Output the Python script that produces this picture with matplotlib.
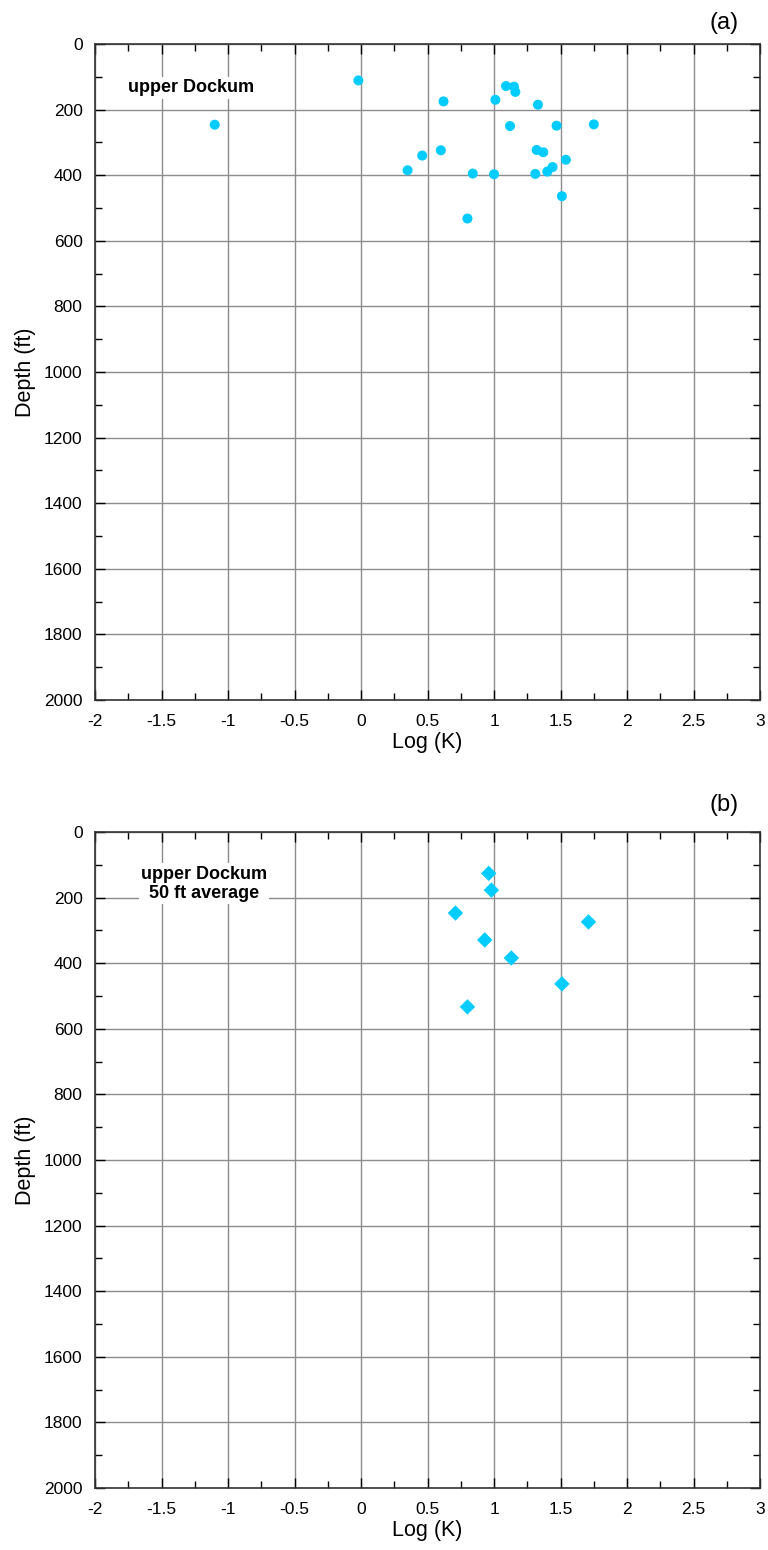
import numpy as np
import matplotlib
matplotlib.use("Agg")
import matplotlib.pyplot as plt
from matplotlib.ticker import MultipleLocator

plt.rcParams['font.family'] = ['Liberation Sans', 'DejaVu Sans']

# panel (a): individual measurements, upper Dockum
logk_a = [-0.02, 1.09, 1.15, 1.16, 0.62, 1.01, 1.33, -1.10, 1.12, 1.47, 1.75,
          0.60, 0.46, 1.32, 1.37, 1.54, 0.35, 0.84, 1.00, 1.31, 1.40, 1.44, 1.51, 0.80]
depth_a = [111, 128, 130, 146, 175, 170, 185, 246, 250, 249, 245,
           324, 340, 323, 330, 353, 385, 395, 397, 396, 389, 375, 464, 532]

# panel (b): 50 ft averages
logk_b = [0.96, 0.98, 0.71, 1.71, 0.93, 1.13, 1.51, 0.80]
depth_b = [126, 177, 247, 274, 329, 384, 463, 533]

marker_color = '#00CCFF'

fig = plt.figure(figsize=(7.68, 15.5), dpi=100)
ax_a = fig.add_axes([0.1237, 0.5484, 0.866, 0.4232])
ax_b = fig.add_axes([0.1237, 0.0400, 0.866, 0.4232])


def style_axis(ax):
    ax.set_xlim(-2, 3)
    ax.set_ylim(2000, 0)
    ticks = np.arange(-2, 3.01, 0.5)
    ax.set_xticks(ticks)
    ax.set_xticklabels(['%g' % t for t in ticks])
    ax.xaxis.set_minor_locator(MultipleLocator(0.25))
    ax.yaxis.set_major_locator(MultipleLocator(200))
    ax.yaxis.set_minor_locator(MultipleLocator(100))
    ax.tick_params(which='both', direction='in', top=True, right=True,
                   labelsize=12.5, colors='black')
    ax.tick_params(axis='x', pad=10)
    ax.tick_params(axis='y', pad=9)
    ax.tick_params(which='major', length=7, width=1)
    ax.tick_params(which='minor', length=5, width=1)
    ax.grid(True, which='major', color='#8c8c8c', linewidth=1)
    ax.set_axisbelow(True)
    for s in ax.spines.values():
        s.set_linewidth(1.2)
        s.set_color('#333333')
    ax.set_xlabel('Log (K)', fontsize=15.5, labelpad=2)
    ax.set_ylabel('Depth (ft)', fontsize=15.5, labelpad=6)


style_axis(ax_a)
ax_a.scatter(logk_a, depth_a, s=52, marker='o', color=marker_color,
             edgecolors='none', zorder=3)
ax_a.text(-1.28, 134, 'upper Dockum', fontsize=13, fontweight='bold',
          ha='center', va='center',
          bbox=dict(facecolor='white', edgecolor='none', pad=1.5))
fig.text(0.943, 0.985, '(a)', fontsize=17, ha='center', va='center')

style_axis(ax_b)
ax_b.scatter(logk_b, depth_b, s=62, marker='D', color=marker_color,
             edgecolors='none', zorder=3)
ax_b.text(-1.18, 158, 'upper Dockum\n50 ft average', fontsize=13,
          fontweight='bold', ha='center', va='center', linespacing=1.2,
          bbox=dict(facecolor='white', edgecolor='none', pad=1.5))
fig.text(0.943, 0.4806, '(b)', fontsize=17, ha='center', va='center')

fig.savefig('out.png', dpi=100)
